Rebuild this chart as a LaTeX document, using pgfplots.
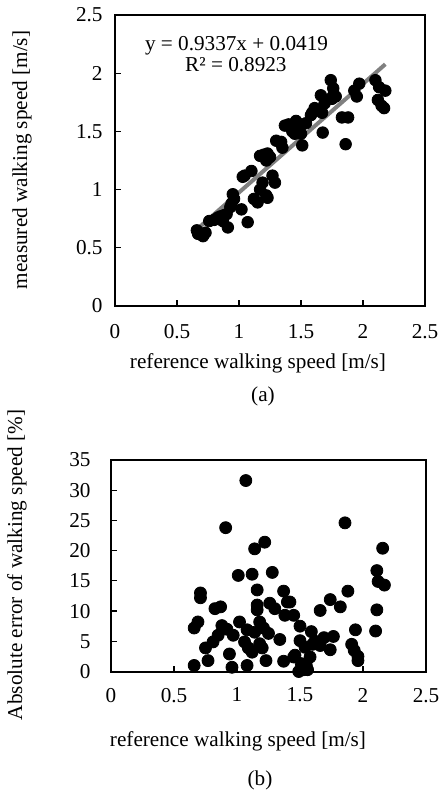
\documentclass[border=0pt]{standalone}
\usepackage{fontspec}
\setmainfont{Liberation Serif}
\usepackage{pgfplots}
\pgfplotsset{compat=1.18}

\newcommand{\fs}{\fontsize{10.6}{12.7}\selectfont}

\begin{document}
\fs
\begin{tikzpicture}
\useasboundingbox (0,0) rectangle (220.5pt,-396pt);
\pgfplotsset{
  myaxis/.style={
    scale only axis,
    xmin=0, xmax=2.5, ymin=0,
    xtick={0,0.5,1,1.5,2,2.5},
    axis line style={line width=1pt},
    tick align=inside, xtick pos=bottom, ytick pos=left,
    major tick length=2.8pt,
    every tick/.style={black, line width=0.6pt},
    /pgf/number format/assume math mode=true,
    tick label style={font=\fs},
    clip=false,
  },
}

% (a) measured vs reference
\begin{axis}[myaxis,
  at={(57.5pt,-153pt)}, anchor=south west,
  width=155pt, height=145.5pt,
  ymax=2.5, ytick={0,0.5,1,1.5,2,2.5},
  xticklabel shift=5.5pt, yticklabel shift=2.5pt,
]
\addplot[only marks, mark=*, mark size=2.9pt, black] table {
x y
0.66 0.65
0.67 0.62
0.70 0.61
0.73 0.63
0.71 0.60
0.76 0.73
0.80 0.74
0.83 0.76
0.85 0.77
0.87 0.73
0.88 0.78
0.90 0.79
0.91 0.675
0.93 0.85
0.94 0.88
0.96 0.92
0.95 0.96
1.02 0.83
1.07 0.72
1.03 1.11
1.045 1.12
1.10 1.16
1.12 0.92
1.15 0.89
1.17 1.00
1.19 1.06
1.22 0.95
1.23 0.93
1.27 1.12
1.29 1.06
1.17 1.29
1.20 1.30
1.23 1.31
1.25 1.28
1.22 1.25
1.30 1.42
1.34 1.41
1.35 1.36
1.37 1.55
1.40 1.56
1.42 1.53
1.43 1.50
1.46 1.59
1.45 1.48
1.49 1.53
1.50 1.48
1.51 1.38
1.54 1.57
1.58 1.64
1.61 1.68
1.59 1.66
1.61 1.70
1.66 1.81
1.69 1.74
1.67 1.66
1.675 1.49
1.74 1.94
1.76 1.87
1.78 1.80
1.755 1.80
1.75 1.78
1.83 1.62
1.88 1.62
1.86 1.39
1.93 1.85
1.95 1.80
1.97 1.91
2.10 1.94
2.13 1.88
2.12 1.77
2.15 1.72
2.17 1.70
2.18 1.85
};
\addplot[color={rgb,255:red,128;green,128;blue,128}, line width=2pt] coordinates {(0.66,0.658) (2.18,2.077)};
\node[font=\fs] at (axis cs:0.98,2.24) {y = 0.9337x + 0.0419};
\node[font=\fs] at (axis cs:0.975,2.07) {R² = 0.8923};
\end{axis}

% (b) absolute error
\begin{axis}[myaxis,
  at={(55.5pt,-335.75pt)}, anchor=south west,
  width=157.5pt, height=105.75pt,
  ymax=35, ytick={0,5,10,15,20,25,30,35},
  xticklabel shift=4.5pt, yticklabel shift=6.5pt,
]
\addplot[only marks, mark=*, mark size=3pt, black] table {
x y
0.66 1.0
0.66 7.2
0.69 8.2
0.71 13.0
0.71 12.2
0.75 3.9
0.77 1.8
0.81 4.9
0.85 6.0
0.825 10.4
0.87 10.7
0.88 7.6
0.92 7.0
0.97 6.0
0.91 23.8
0.94 2.9
0.96 0.7
1.01 15.9
1.02 8.2
1.07 31.6
1.08 1.0
1.06 4.9
1.08 6.9
1.09 3.9
1.12 3.2
1.12 16.1
1.14 6.5
1.14 20.3
1.16 13.5
1.16 11.0
1.16 10.2
1.18 8.2
1.18 4.6
1.20 3.9
1.21 7.2
1.22 21.4
1.23 1.8
1.25 6.3
1.26 11.3
1.28 16.4
1.30 10.4
1.34 5.3
1.37 13.3
1.38 9.3
1.37 1.7
1.40 11.5
1.42 11.5
1.45 9.3
1.45 2.4
1.46 2.7
1.49 0.0
1.50 7.5
1.50 5.1
1.51 1.3
1.53 0.3
1.54 4.0
1.55 1.0
1.56 0.3
1.58 2.4
1.59 6.6
1.60 4.5
1.62 5.0
1.66 4.3
1.66 10.1
1.69 5.6
1.74 11.9
1.74 3.6
1.765 5.8
1.82 10.7
1.857 24.6
1.88 13.3
1.91 4.5
1.93 3.5
1.96 2.5
1.96 1.8
1.94 6.9
2.10 6.7
2.11 10.2
2.11 16.7
2.12 14.9
2.156 20.4
2.17 14.3
};
\end{axis}

% labels
\node[font=\fs, rotate=90] at (11pt,-80pt) {measured walking speed [m/s]};
\node[font=\fs] at (129pt,-181.5pt) {reference walking speed [m/s]};
\node[font=\fs] at (131.5pt,-198pt) {(a)};
\node[font=\fs, rotate=90] at (8.5pt,-282.5pt) {Absolute error of walking speed [\%]};
\node[font=\fs] at (119pt,-370.8pt) {reference walking speed [m/s]};
\node[font=\fs] at (130pt,-390pt) {(b)};
\end{tikzpicture}
\end{document}
